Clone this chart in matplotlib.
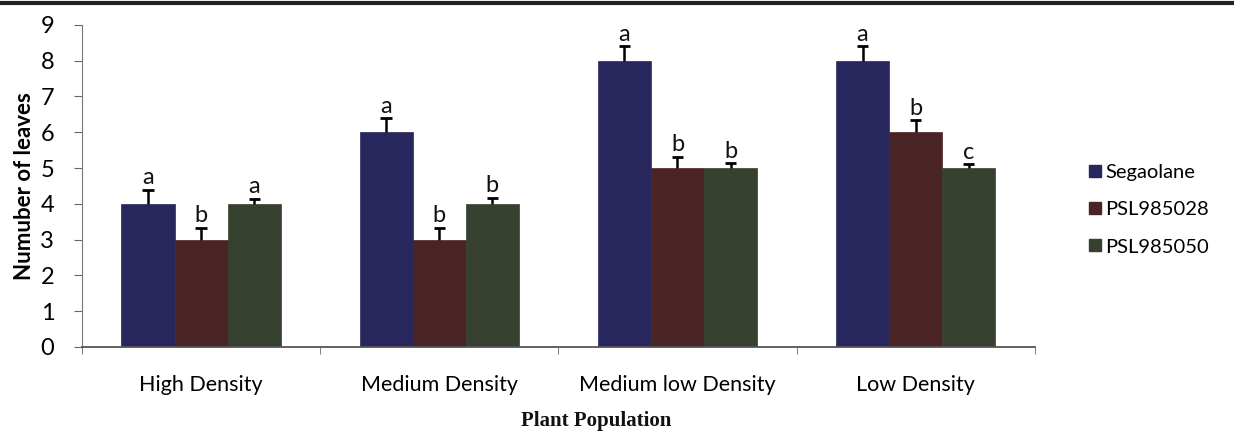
import numpy as np
import matplotlib.pyplot as plt
from matplotlib.lines import Line2D

# leaf counts per cultivar at each plant population
categories = ['High Density', 'Medium Density', 'Medium low Density', 'Low Density']
segaolane = [4, 6, 8, 8]
psl985028 = [3, 3, 5, 6]
psl985050 = [4, 4, 5, 5]
segaolane_err = [0.4, 0.4, 0.4, 0.4]
psl985028_err = [0.33, 0.33, 0.32, 0.33]
psl985050_err = [0.14, 0.17, 0.13, 0.1]
segaolane_grp = ['a', 'a', 'a', 'a']
psl985028_grp = ['b', 'b', 'b', 'b']
psl985050_grp = ['a', 'b', 'b', 'c']

series = [
    ('Segaolane', segaolane, segaolane_err, segaolane_grp, '#27275e'),
    ('PSL985028', psl985028, psl985028_err, psl985028_grp, '#4a2325'),
    ('PSL985050', psl985050, psl985050_err, psl985050_grp, '#35402f'),
]

fig = plt.figure(figsize=(12.34, 4.37), dpi=100)
ax = fig.add_axes([0.0665, 0.206, 0.772, 0.737])

x = np.arange(len(categories))
w = 0.223
cap = 0.024
tick_font = 'Lato'

for i, (name, vals, err, grp, col) in enumerate(series):
    pos = x + (i - 1) * w
    vals = np.array(vals)
    tops = vals + np.array(err)
    ax.bar(pos, vals, w, color=col, edgecolor=col, linewidth=0.5, label=name)
    # upper error bar only
    ax.vlines(pos, vals, tops, color='black', linewidth=1.8)
    ax.hlines(tops, pos - cap, pos + cap, color='black', linewidth=2)
    for p, t, g in zip(pos, tops, grp):
        ax.text(p, t + 0.04, g, ha='center', va='bottom',
                fontsize=17, family=tick_font, color='#111111')

ax.set_xlim(-0.5, len(categories) - 0.5)
ax.set_ylim(0, 9)
ax.set_yticks(range(10))
ax.set_xticks(x)
ax.set_xticklabels(categories, fontsize=15.5, family=tick_font)
ax.set_xticks(np.arange(len(categories) + 1) - 0.5, minor=True)
ax.tick_params(axis='x', which='major', length=0, pad=20)
ax.tick_params(axis='x', which='minor', length=5, color='#666666')
ax.tick_params(axis='y', labelsize=17, length=6, color='#666666', pad=14)
for lab in ax.get_yticklabels():
    lab.set_family(tick_font)

for s in ['top', 'right']:
    ax.spines[s].set_visible(False)
ax.spines['left'].set_color('#777777')
ax.spines['bottom'].set_color('#555555')
ax.spines['bottom'].set_linewidth(1.3)

ax.set_ylabel('Numuber of leaves', fontsize=16, fontweight='bold',
              family=tick_font, labelpad=4)
fig.text(0.483, 0.037, 'Plant Population', ha='center', va='center',
         fontsize=15, fontweight='bold', family='Liberation Serif', color='#111111')

handles = [Line2D([], [], marker='s', linestyle='none', markersize=9,
                  markerfacecolor=c, markeredgecolor=c) for _, _, _, _, c in series]
fig.legend(handles, [s[0] for s in series], loc='center left',
           bbox_to_anchor=(0.866, 0.52), frameon=False, handletextpad=0.1,
           labelspacing=1.0, handlelength=0.8,
           prop={'family': tick_font, 'size': 14.5})

# rule across the top edge
fig.add_artist(Line2D([0, 1], [0.993, 0.993], color='#222222', linewidth=3))

fig.savefig('out.png', dpi=100)
